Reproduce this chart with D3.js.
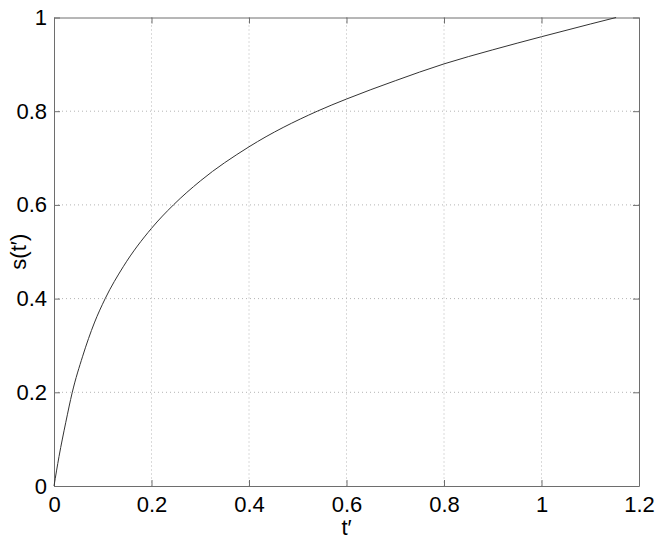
<!DOCTYPE html>
<html>
<head>
<meta charset="utf-8">
<script src="https://cdn.jsdelivr.net/npm/d3@7"></script>
<style>
  body { margin: 0; background: #fff; }
  svg { display: block; }
  text { font-family: "Liberation Sans", Arial, Helvetica, sans-serif; fill: #000; }
</style>
</head>
<body>
<div id="chart"></div>
<script>
// values
const tValues = [0, 0.0103, 0.024, 0.0375, 0.0588, 0.0827, 0.105, 0.142, 0.2, 0.245, 0.3, 0.4, 0.54, 0.6, 0.7, 0.8, 0.9, 1.0, 1.1, 1.153]
const sValues = [0, 0.063, 0.135, 0.2, 0.277, 0.348, 0.4, 0.468, 0.55, 0.6, 0.651, 0.724, 0.8, 0.826, 0.865, 0.901, 0.931, 0.959, 0.986, 1.0]
const xTicks = [0, 0.2, 0.4, 0.6, 0.8, 1, 1.2]
const yTicks = [0, 0.2, 0.4, 0.6, 0.8, 1]

const W = 659, H = 540
const margin = {top: 17.5, right: 20, bottom: 54, left: 54}
const width = W - margin.left - margin.right
const height = H - margin.top - margin.bottom

const svg = d3.select("#chart")
    .append("svg")
    .attr("width", W)
    .attr("height", H)
    .append("g")
        .attr("transform", `translate(${margin.left}, ${margin.top})`)

const x = d3.scaleLinear().domain([0, 1.2]).range([0, width])
const y = d3.scaleLinear().domain([0, 1]).range([height, 0])

const axisColor = "#6e6e6e"

// grid
svg.append("g").selectAll("line.vgrid")
    .data(xTicks.slice(1, -1))
    .enter().append("line")
        .attr("x1", d => x(d)).attr("x2", d => x(d))
        .attr("y1", 0).attr("y2", height)
        .attr("stroke", "#b4b4b4")
        .attr("stroke-dasharray", "1,3")

svg.append("g").selectAll("line.hgrid")
    .data(yTicks.slice(1, -1))
    .enter().append("line")
        .attr("y1", d => y(d)).attr("y2", d => y(d))
        .attr("x1", 0).attr("x2", width)
        .attr("stroke", "#b4b4b4")
        .attr("stroke-dasharray", "1,3")

// axes, ticks pointing inward on all four sides
const styleAxis = g => {
    g.select(".domain").attr("stroke", axisColor)
    g.selectAll(".tick line").attr("stroke", axisColor)
    g.selectAll("text").style("font-size", "22px").attr("fill", "#000")
}

svg.append("g")
    .attr("transform", `translate(0, ${height})`)
    .call(d3.axisBottom(x).tickValues(xTicks).tickSize(-6).tickSizeOuter(0).tickPadding(10).tickFormat(d3.format("")))
    .call(styleAxis)
    .call(g => g.selectAll("text").attr("dy", "0.71em").attr("y", 10))

svg.append("g")
    .call(d3.axisTop(x).tickValues(xTicks).tickSize(-6).tickSizeOuter(0).tickFormat(""))
    .call(styleAxis)

svg.append("g")
    .call(d3.axisLeft(y).tickValues(yTicks).tickSize(-6).tickSizeOuter(0).tickPadding(7).tickFormat(d3.format("")))
    .call(styleAxis)

svg.append("g")
    .attr("transform", `translate(${width}, 0)`)
    .call(d3.axisRight(y).tickValues(yTicks).tickSize(-6).tickSizeOuter(0).tickFormat(""))
    .call(styleAxis)

// curve
const line = d3.line()
    .x((d, i) => x(tValues[i]))
    .y(d => y(d))
    .curve(d3.curveMonotoneX)

svg.append("path")
    .datum(sValues)
    .attr("fill", "none")
    .attr("stroke", "#333")
    .attr("stroke-width", 1)
    .attr("d", line)

// labels
svg.append("text")
    .attr("x", width / 2)
    .attr("y", height + 49)
    .attr("text-anchor", "middle")
    .style("font-size", "22px")
    .text("t\u2032")

svg.append("text")
    .attr("transform", `translate(${26 - margin.left}, ${height / 2}) rotate(-90)`)
    .attr("text-anchor", "middle")
    .style("font-size", "22px")
    .text("s(t\u2032)")
</script>
</body>
</html>
